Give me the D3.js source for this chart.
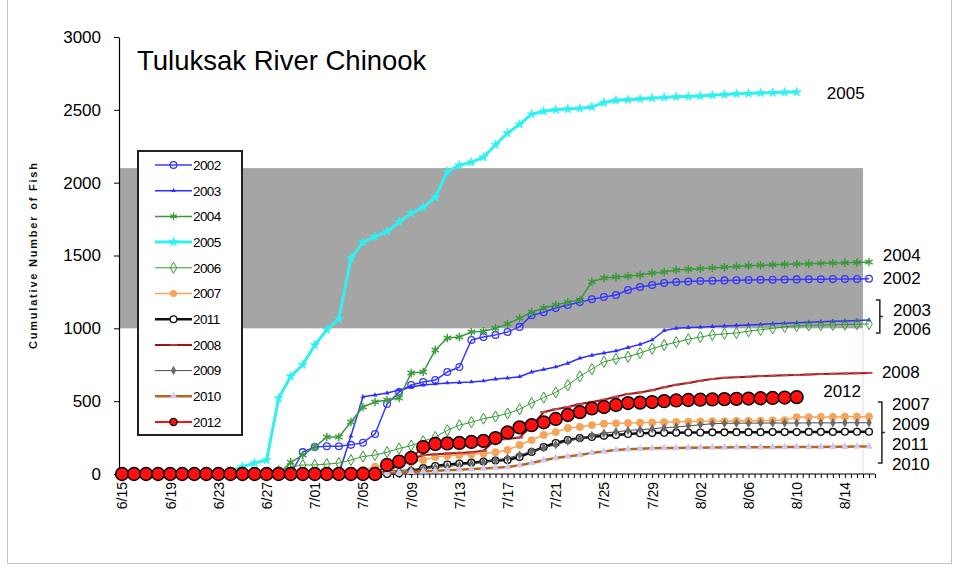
<!DOCTYPE html>
<html>
<head>
<meta charset="utf-8">
<script src="https://cdn.jsdelivr.net/npm/d3@7"></script>
<style>
  body { margin: 0; background: #fff; }
  svg { display: block; font-family: Arial, "Liberation Sans", sans-serif; }
</style>
</head>
<body>
<svg width="954" height="567"></svg>
<script>
// day index 0 = 6/15 ... 62 = 8/16
const tickLabels = ["6/15","6/19","6/23","6/27","7/01","7/05","7/09","7/13","7/17","7/21","7/25","7/29","8/02","8/06","8/10","8/14"];
const yTicks = [0, 500, 1000, 1500, 2000, 2500, 3000];
const goalBand = [1000, 2100];

const y2002 = [0,0,0,0,0, 0,0,0,0,0, 0,0,0,0,0,
  150,185,190,190,200,215,275,480,563,611,632,645,700,735,920,940,955,975,1010,1090,1110,1140,1160,1180,1200,
  1215,1229,1263,1284,1297,1311,1318,1322,1325,1327,1329,1330,1332,1333,1334,1335,1336,1337,1337,1338,1338,1339,1340];
const y2003 = [0,0,0,0,0, 0,0,0,0,0, 0,0,0,0,0, 0,0,0,0,
  260,530,542,556,577,597,611,618,625,628,632,639,652,659,668,700,718,735,760,795,815,
  830,845,868,890,920,985,1000,1005,1008,1012,1016,1020,1023,1027,1031,1035,1038,1042,1045,1048,1051,1054,1057];
const y2004 = [0,0,0,0,0, 0,0,0,0,0, 0,0,0,0,
  80,130,185,254,254,357,460,494,508,522,693,700,851,933,940,975,980,1000,1030,1070,1110,1140,1160,1180,1195,
  1320,1345,1352,1358,1366,1380,1387,1400,1405,1410,1415,1420,1425,1430,1433,1436,1440,1442,1444,1446,1448,1450,1452,1455];
const y2005 = [0,0,0,0,0, 0,0,0,0,
  20,50,75,95,520,670,750,885,990,1065,1480,1590,1630,1665,1730,1790,1830,1900,2075,2120,2140,2175,2260,2340,2400,2470,2490,
  2500,2505,2510,2520,2550,2565,2570,2575,2580,2585,2590,2592,2595,2600,2605,2610,2612,2615,2618,2620,2622,
  null,null,null,null,null,null];
const y2006 = [0,0,0,0,0, 0,0,0,0,0, 0,0,0,
  20,48,62,62,68,75,96,120,130,150,175,195,225,254,300,335,355,380,395,415,445,487,525,560,610,670,720,
  770,790,805,830,860,885,905,925,940,955,962,968,980,990,1000,1010,1016,1020,1022,1024,1026,1028,1030];
const y2007 = [0,0,0,0,0, 0,0,0,0,0, 0,0,0,0,0, 0,0,0,0,
  10,30,50,60,70,80,96,117,125,130,135,140,150,165,199,233,268,288,316,323,336,
  345,348,350,352,354,356,358,360,361,362,363,364,365,366,368,370,391,391,392,392,393,393,393];
const y2008 = [0,0,0,0,0, 0,0,0,0,0, 0,0,0,0,0, 0,0,0,0,0, 0,0,
  20,60,100,130,135,140,145,150,160,235,240,250,330,425,445,460,480,495,510,530,
  550,560,575,595,612,625,640,652,660,665,668,672,675,678,680,683,686,688,690,692,694];
const y2009 = [0,0,0,0,0, 0,0,0,0,0, 0,0,0,0,0, 0,0,0,0,0, 0,
  10,20,25,30,38,45,52,60,70,80,95,110,130,155,180,200,225,245,265,280,
  290,298,305,310,318,323,330,338,345,348,349,349,350,350,350,350,351,351,351,352,352,352];
const y2010 = [0,0,0,0,0, 0,0,0,0,0, 0,0,0,0,0, 0,0,0,0,0, 0,
  5,8,10,15,18,22,26,30,34,38,43,48,60,75,95,110,120,130,145,155,
  165,170,174,177,178,179,180,181,182,182,183,183,184,184,185,185,186,186,187,187,188,188];
const y2011 = [0,0,0,0,0, 0,0,0,0,0, 0,0,0,0,0, 0,0,0,0,0, 0,0,0,
  5,20,40,55,65,72,78,85,92,96,117,151,185,213,233,247,254,262,
  268,275,280,282,283,284,285,285,286,286,287,287,287,288,288,288,289,289,289,290,290,290];
const y2012 = [0,0,0,0,0, 0,0,0,0,0, 0,0,0,0,0, 0,0,0,0,0, 0,0,
  62,85,110,185,206,210,213,220,227,247,285,320,335,355,378,405,425,450,460,
  474,487,490,494,500,505,508,510,512,514,516,518,520,522,525,528,
  null,null,null,null,null,null];

// end-of-line labels, placed in data units (day, fish)
const endLabels = [
  { text: "2005", day: 58.5, value: 2616 },
  { text: "2004", day: 63.15, value: 1503 },
  { text: "2002", day: 63.15, value: 1346 },
  { text: "2003", day: 64.0, value: 1126 },
  { text: "2006", day: 64.0, value: 995 },
  { text: "2008", day: 63.07, value: 700 },
  { text: "2012", day: 58.2, value: 570 },
  { text: "2007", day: 63.9, value: 481 },
  { text: "2009", day: 63.9, value: 343 },
  { text: "2011", day: 63.9, value: 206 },
  { text: "2010", day: 63.9, value: 69 }
];
const brackets = [
  { day: 62.9, from: 1195, to: 968 },
  { day: 63.07, from: 494, to: 75 }
];

const star = d3.symbolStar;
const ast = d3.symbolAsterisk || d3.symbolCross;
const series = [
  { name: "2002", values: y2002, color: "#3838ff", width: 1.5, marker: { type: d3.symbolCircle, size: 36, fill: "none", stroke: "#3838ff", sw: 1.3 } },
  { name: "2003", values: y2003, color: "#2f2fff", width: 1.5, marker: { type: d3.symbolTriangle, size: 10, fill: "#2f2fff", stroke: "none", sw: 0 } },
  { name: "2004", values: y2004, color: "#3a9a3a", width: 1.5, marker: { type: ast, size: 50, fill: "none", stroke: "#3a9a3a", sw: 1.4 } },
  { name: "2005", values: y2005, color: "#30f0f0", width: 3, marker: { type: star, size: 28, fill: "#30f0f0", stroke: "#30f0f0", sw: 0.5 } },
  { name: "2006", values: y2006, color: "#339933", width: 1, marker: { type: d3.symbolDiamond, size: 36, fill: "none", stroke: "#339933", sw: 1 } },
  { name: "2007", values: y2007, color: "#f5a55a", width: 1.5, marker: { type: d3.symbolCircle, size: 48, fill: "#f5a55a", stroke: "none", sw: 0 } },
  { name: "2011", values: y2011, color: "#111111", width: 2.5, marker: { type: d3.symbolCircle, size: 36, fill: "#fff", stroke: "#111", sw: 1.4 } },
  { name: "2008", values: y2008, color: "#9e1515", width: 2, marker: { type: "dash", size: 3.5, fill: "none", stroke: "#c04848", sw: 2 } },
  { name: "2009", values: y2009, color: "#4a4a4a", width: 1, marker: { type: d3.symbolDiamond, size: 26, fill: "#6a6a6a", stroke: "none", sw: 0 } },
  { name: "2010", values: y2010, color: "#b8651d", width: 2.5, marker: { type: d3.symbolTriangle, size: 26, fill: "#cfc8ee", stroke: "none", sw: 0 } },
  { name: "2012", values: y2012, color: "#ff1010", width: 2, marker: { type: d3.symbolCircle, size: 128, fill: "#ff1010", stroke: "#000", sw: 1.5 } }
];

const svg = d3.select("svg");

const x = d3.scaleLinear().domain([0, 62]).range([122, 869]);
const y = d3.scaleLinear().domain([0, 3000]).range([474, 37]);
const plotLeft = 119, plotRight = 875;

const markerPath = (m, maxSize = Infinity) => m.type === "dash"
  ? `M${-m.size},0H${m.size}`
  : d3.symbol().type(m.type).size(Math.min(m.size, maxSize))();

// outer frame
svg.append("rect")
  .attr("x", 7.5).attr("y", -2)
  .attr("width", 944).attr("height", 565.5)
  .attr("fill", "none").attr("stroke", "#c4c4c4");

// goal band
svg.append("rect")
  .attr("x", plotLeft).attr("y", y(goalBand[1]))
  .attr("width", x(61.5) - plotLeft)
  .attr("height", y(goalBand[0]) - y(goalBand[1]))
  .attr("fill", "#a5a5a5");
svg.append("line")
  .attr("x1", x(61.5)).attr("x2", x(61.5))
  .attr("y1", y(goalBand[0])).attr("y2", y(0))
  .attr("stroke", "#ead8d8").attr("stroke-width", 1);

// y axis
svg.append("g")
  .attr("transform", `translate(${plotLeft},0)`)
  .call(d3.axisLeft(y).tickValues(yTicks).tickFormat(d3.format("d"))
    .tickSize(5).tickSizeOuter(0).tickPadding(13))
  .attr("font-family", null).attr("font-size", 17)
  .call(g => g.selectAll("text").attr("fill", "#000"))
  .call(g => g.selectAll("line").attr("stroke", "#000"))
  .call(g => g.select(".domain").attr("stroke", "#000").attr("stroke-width", 1.2));

// x axis: a tick every half day, a label every fourth day
svg.append("g")
  .attr("transform", `translate(0,${y(0)})`)
  .call(d3.axisBottom(x).tickValues(d3.range(0, 63, 0.5)).tickSize(4).tickSizeOuter(0)
    .tickFormat(i => i % 4 === 0 ? (tickLabels[i / 4] || "") : ""))
  .attr("font-family", null).attr("font-size", 14)
  .call(g => g.select(".domain").remove())
  .call(g => g.selectAll("line").attr("stroke", "#000"))
  .call(g => g.selectAll("text")
    .attr("fill", "#000")
    .attr("transform", "rotate(-90)")
    .attr("text-anchor", "end")
    .attr("x", -8).attr("y", 0).attr("dy", "0.35em"));
svg.append("line")
  .attr("x1", plotLeft).attr("x2", plotRight)
  .attr("y1", y(0)).attr("y2", y(0))
  .attr("stroke", "#000").attr("stroke-width", 1.2);

// series
const line = d3.line()
  .defined(d => d != null)
  .x((d, i) => x(i))
  .y(d => y(d));

series.forEach(s => {
  const g = svg.append("g");
  g.append("path")
    .attr("d", line(s.values))
    .attr("fill", "none")
    .attr("stroke", s.color)
    .attr("stroke-width", s.width)
    .attr("stroke-linejoin", "round");
  const pts = s.values.map((v, i) => ({ v, i })).filter(d => d.v != null);
  g.selectAll("path.m")
    .data(pts)
    .join("path")
    .attr("class", "m")
    .attr("transform", d => `translate(${x(d.i)},${y(d.v)})`)
    .attr("d", markerPath(s.marker))
    .attr("fill", s.marker.fill)
    .attr("stroke", s.marker.stroke)
    .attr("stroke-width", s.marker.sw);
});

// title
svg.append("text")
  .attr("x", 137).attr("y", 70)
  .attr("font-size", 27.5)
  .attr("fill", "#000")
  .text("Tuluksak River Chinook");

// y axis title
svg.append("text")
  .attr("transform", "translate(37,256) rotate(-90)")
  .attr("text-anchor", "middle")
  .attr("font-size", 11)
  .attr("font-weight", "bold")
  .attr("textLength", 186)
  .attr("lengthAdjust", "spacing")
  .attr("fill", "#111")
  .text("Cumulative Number of Fish");

// legend
const legend = svg.append("g");
legend.append("rect")
  .attr("x", 138).attr("y", 151)
  .attr("width", 104).attr("height", 284)
  .attr("fill", "#fff").attr("stroke", "#222").attr("stroke-width", 2);
series.forEach((s, k) => {
  const ly = 165 + k * 25.7;
  legend.append("line")
    .attr("x1", 155).attr("x2", 192)
    .attr("y1", ly).attr("y2", ly)
    .attr("stroke", s.color).attr("stroke-width", s.width);
  legend.append("path")
    .attr("transform", `translate(173.5,${ly})`)
    .attr("d", markerPath(s.marker, 40))
    .attr("fill", s.marker.fill)
    .attr("stroke", s.marker.stroke)
    .attr("stroke-width", Math.min(s.marker.sw, 1.3));
  legend.append("text")
    .attr("x", 193).attr("y", ly).attr("dy", "0.36em")
    .attr("font-size", 13.5)
    .attr("letter-spacing", -0.6)
    .attr("fill", "#000")
    .text(s.name);
});

// end labels and brackets
svg.append("g").selectAll("text")
  .data(endLabels)
  .join("text")
  .attr("x", d => x(d.day))
  .attr("y", d => y(d.value))
  .attr("dy", "0.36em")
  .attr("font-size", 17)
  .attr("fill", "#000")
  .text(d => d.text);

svg.append("g").selectAll("path")
  .data(brackets)
  .join("path")
  .attr("d", d => {
    const bx = x(d.day), y1 = y(d.from), y2 = y(d.to), ym = (y1 + y2) / 2;
    return `M${bx - 4},${y1}H${bx}V${y2}H${bx - 4}M${bx},${ym}H${bx + 3}`;
  })
  .attr("fill", "none")
  .attr("stroke", "#222")
  .attr("stroke-width", 1.5);
</script>
</body>
</html>
